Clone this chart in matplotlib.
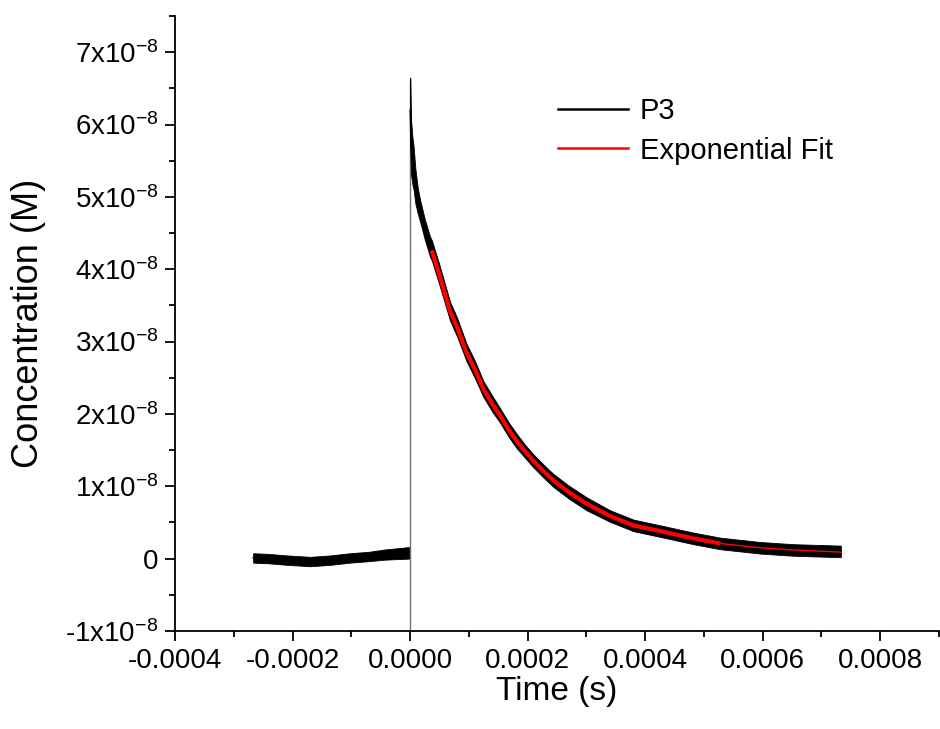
import matplotlib
matplotlib.use("Agg")
import matplotlib.pyplot as plt
from matplotlib.lines import Line2D
from matplotlib.ticker import MultipleLocator, FuncFormatter
import numpy as np

plt.rcParams['font.family'] = ['Liberation Sans', 'DejaVu Sans']
plt.rcParams['mathtext.fontset'] = 'custom'
plt.rcParams['mathtext.rm'] = 'Liberation Sans'
plt.rcParams['mathtext.default'] = 'regular'

# ---- data (time in s, concentration in units of 1e-8 M) ----
# pre-trigger baseline of trace P3
pre_t_us = [-267, -240, -210, -170, -135, -102, -70, -45, -20, -2]
pre_c = [0.01, 0.00, -0.02, -0.04, -0.02, 0.01, 0.03, 0.055, 0.07, 0.08]
pre_hw = [0.065, 0.065, 0.065, 0.065, 0.065, 0.065, 0.065, 0.07, 0.075, 0.08]

# post-trigger decay of trace P3
post_t_us = [0.2, 1.5, 4, 6, 9, 13, 17, 25, 34, 37, 50, 68, 80, 96, 110, 125, 140,
             153, 168, 182, 196, 210, 227, 244, 270, 300, 340, 380, 426, 482, 528,
             596, 652, 733]
post_c = [6.2, 5.7, 5.5, 5.4, 5.15, 4.95, 4.81, 4.55, 4.31, 4.26, 3.92, 3.42, 3.20,
          2.85, 2.62, 2.34, 2.14, 1.98, 1.78, 1.62, 1.48, 1.35, 1.21, 1.08, 0.92,
          0.76, 0.59, 0.46, 0.38, 0.28, 0.21, 0.15, 0.12, 0.10]
post_hw = [0.45, 0.38, 0.33, 0.30, 0.24, 0.18, 0.15, 0.14, 0.14, 0.14, 0.14, 0.13,
           0.13, 0.12, 0.12, 0.11, 0.11, 0.10, 0.10, 0.10, 0.09, 0.09, 0.09, 0.09,
           0.09, 0.09, 0.08, 0.08, 0.08, 0.08, 0.08, 0.08, 0.08, 0.08]

# exponential fit
fit_t_us = [37, 50, 68, 80, 96, 110, 125, 140, 153, 168, 182, 196, 210, 227, 244,
            270, 300, 340, 380, 426, 482, 528, 596, 652, 733]
fit_c = [4.26, 3.92, 3.42, 3.20, 2.85, 2.62, 2.34, 2.14, 1.98, 1.78, 1.62, 1.48,
         1.35, 1.21, 1.08, 0.92, 0.76, 0.59, 0.46, 0.38, 0.28, 0.21, 0.15, 0.12, 0.09]
fit_thick_end_us = 528

trigger_top = 6.6  # top of the t=0 marker line (1e-8 M)

x_ticks = [-0.0004, -0.0002, 0.0, 0.0002, 0.0004, 0.0006, 0.0008]
y_ticks_e8 = [-1, 0, 1, 2, 3, 4, 5, 6, 7]

series_names = ['P3', 'Exponential Fit']
series_colors = ['black', '#ff0000']

# ---- conversion ----
US = 1e-6
E8 = 1e-8
pre_t = np.array(pre_t_us) * US
post_t = np.array(post_t_us) * US
fit_t = np.array(fit_t_us) * US
pre_c_a = np.array(pre_c) * E8
post_c_a = np.array(post_c) * E8
fit_c_a = np.array(fit_c) * E8

fig = plt.figure(figsize=(9.4, 7.29), dpi=100)
ax = fig.add_axes([175/940, 98/729, (939-175)/940, (631-16)/729])

# trigger marker line
ax.plot([0, 0], [-1*E8, trigger_top*E8], color='#707070', lw=1.0, zorder=2)

# noisy trace as band
for t, c, hw in [(pre_t, pre_c_a, np.array(pre_hw)*E8), (post_t, post_c_a, np.array(post_hw)*E8)]:
    ax.fill_between(t, c - hw, c + hw, color='black', lw=0.6, edgecolor='black', zorder=3)
    ax.plot(t, c, color='black', lw=1.0, zorder=3)

# exponential fit
thick = fit_t <= fit_thick_end_us*US + 1e-12
thin_start = np.argmax(fit_t >= fit_thick_end_us*US)
ax.plot(fit_t[thick], fit_c_a[thick], color=series_colors[1], lw=3.0, zorder=4,
        solid_capstyle='butt')
ax.plot(fit_t[thin_start:], fit_c_a[thin_start:], color=series_colors[1], lw=1.0, zorder=4)

ax.set_xlim(-0.0004, 0.0009)
ax.set_ylim(-1*E8, 7.5*E8)

ax.spines['top'].set_visible(False)
ax.spines['right'].set_visible(False)
for s in ['left', 'bottom']:
    ax.spines[s].set_linewidth(1.3)

ax.set_xticks(x_ticks)
ax.xaxis.set_minor_locator(MultipleLocator(0.0001))
ax.xaxis.set_major_formatter(FuncFormatter(lambda v, p: f"{v:.4f}" if abs(v) > 1e-12 else "0.0000"))

ax.set_yticks([v*E8 for v in y_ticks_e8])
ax.yaxis.set_minor_locator(MultipleLocator(0.5*E8))

def yfmt(v, p):
    n = int(round(v / E8))
    if n == 0:
        return "0"
    return f"{n}x10$^{{-8}}$"
ax.yaxis.set_major_formatter(FuncFormatter(yfmt))

ax.tick_params(which='major', direction='out', length=7, width=1.3, labelsize=20, pad=5)
ax.tick_params(which='minor', direction='out', length=4.5, width=1.3)

ax.set_xlabel('Time (s)', fontsize=24, labelpad=2)
ax.set_ylabel('Concentration (M)', fontsize=26, labelpad=14)

handles = [Line2D([0], [0], color=series_colors[0], lw=1.8),
           Line2D([0], [0], color=series_colors[1], lw=1.8)]
fig.legend(handles, series_names, loc='upper left',
           bbox_to_anchor=(558/940, 1 - 97/729), bbox_transform=fig.transFigure,
           frameon=False, fontsize=21, handlelength=2.4, handletextpad=0.4,
           labelspacing=0.4, borderpad=0, borderaxespad=0)

fig.savefig('out.png', dpi=100)
